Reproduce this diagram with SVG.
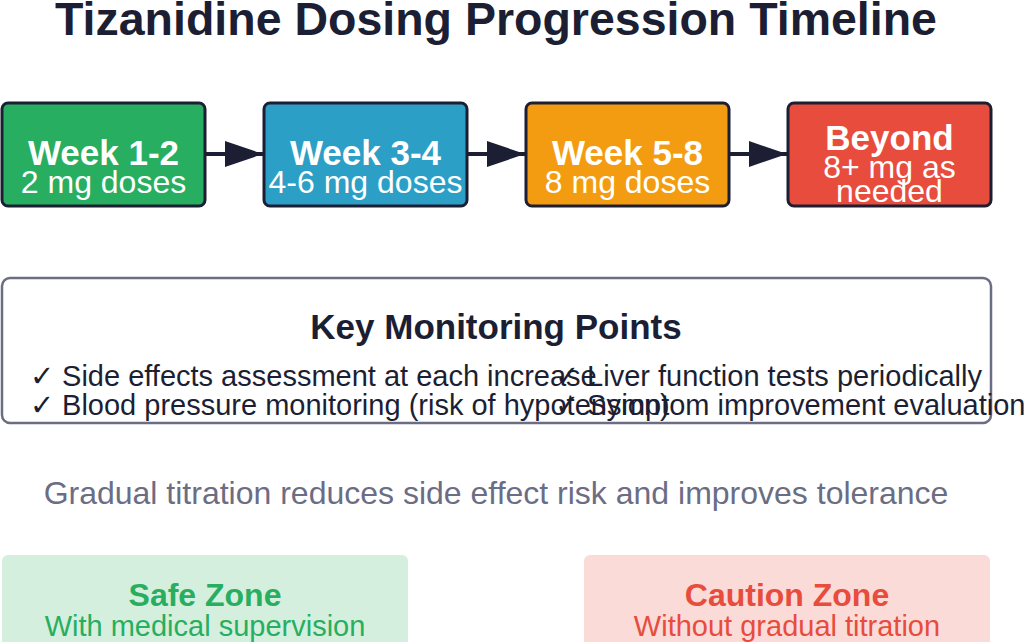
<svg xmlns="http://www.w3.org/2000/svg" width="1024" height="642" viewBox="0 0 1024 642">
  <defs>
    <marker id="arrow" viewBox="0 0 38 26" refX="38" refY="13" markerWidth="38" markerHeight="26" markerUnits="userSpaceOnUse" orient="auto">
      <path d="M0,0 L38,13 L0,26 Z" fill="#1c1f33"/>
    </marker>
    <style>
      text { font-family: "Liberation Sans", Arial, sans-serif; text-anchor: middle; }
      .title { font-size: 46.5px; font-weight: bold; fill: #1c1f33; }
      .step { stroke: #1c1f33; stroke-width: 3; }
      .head { font-size: 35px; font-weight: bold; fill: #ffffff; }
      .sub { font-size: 32px; fill: #ffffff; }
      .conn { stroke: #1c1f33; stroke-width: 4; fill: none; }
      .mon { fill: #ffffff; stroke: #6b6d85; stroke-width: 2.5; }
      .monh { font-size: 35px; font-weight: bold; fill: #1c1f33; }
      .item { font-size: 29px; fill: #1c1f33; text-anchor: start; }
      .note { font-size: 32px; fill: #6b6d85; }
      .zh { font-size: 32px; font-weight: bold; }
      .zs { font-size: 29px; }
    </style>
  </defs>

  <text class="title" x="496" y="35">Tizanidine Dosing Progression Timeline</text>

  <g id="connectors">
    <line class="conn" x1="205" y1="154" x2="263" y2="154" marker-end="url(#arrow)"/>
    <line class="conn" x1="467" y1="154" x2="525" y2="154" marker-end="url(#arrow)"/>
    <line class="conn" x1="729" y1="154" x2="787" y2="154" marker-end="url(#arrow)"/>
  </g>

  <g id="week12">
    <rect class="step" x="2" y="103" width="203" height="103" rx="6" fill="#27ae60"/>
    <text class="head" x="103.5" y="165">Week 1-2</text>
    <text class="sub" x="103.5" y="193">2 mg doses</text>
  </g>
  <g id="week34">
    <rect class="step" x="264" y="103" width="203" height="103" rx="6" fill="#2c9fc6"/>
    <text class="head" x="365.5" y="165">Week 3-4</text>
    <text class="sub" x="365.5" y="193">4-6 mg doses</text>
  </g>
  <g id="week58">
    <rect class="step" x="526" y="103" width="203" height="103" rx="6" fill="#f39c12"/>
    <text class="head" x="627.5" y="165">Week 5-8</text>
    <text class="sub" x="627.5" y="193">8 mg doses</text>
  </g>
  <g id="beyond">
    <rect class="step" x="788" y="103" width="203" height="103" rx="6" fill="#e74c3c"/>
    <text class="head" x="889.5" y="150">Beyond</text>
    <text class="sub" x="889.5" y="178">8+ mg as</text>
    <text class="sub" x="889.5" y="202">needed</text>
  </g>

  <g id="monitoring">
    <rect class="mon" x="2" y="278" width="989" height="145" rx="8"/>
    <text class="monh" x="496" y="339">Key Monitoring Points</text>
    <text class="item" x="30" y="386">✓ Side effects assessment at each increase</text>
    <text class="item" x="30" y="415">✓ Blood pressure monitoring (risk of hypotension)</text>
    <text class="item" x="555" y="386">✓ Liver function tests periodically</text>
    <text class="item" x="555" y="415">✓ Symptom improvement evaluation</text>
  </g>

  <text class="note" x="496" y="504">Gradual titration reduces side effect risk and improves tolerance</text>

  <g id="safe-zone">
    <rect x="2" y="555" width="406" height="100" rx="6" fill="#d5efdf"/>
    <text class="zh" x="205" y="606" fill="#27ae60">Safe Zone</text>
    <text class="zs" x="205" y="636" fill="#27ae60">With medical supervision</text>
  </g>
  <g id="caution-zone">
    <rect x="584" y="555" width="406" height="100" rx="6" fill="#fadbd8"/>
    <text class="zh" x="787" y="606" fill="#e74c3c">Caution Zone</text>
    <text class="zs" x="787" y="636" fill="#e74c3c">Without gradual titration</text>
  </g>
</svg>
